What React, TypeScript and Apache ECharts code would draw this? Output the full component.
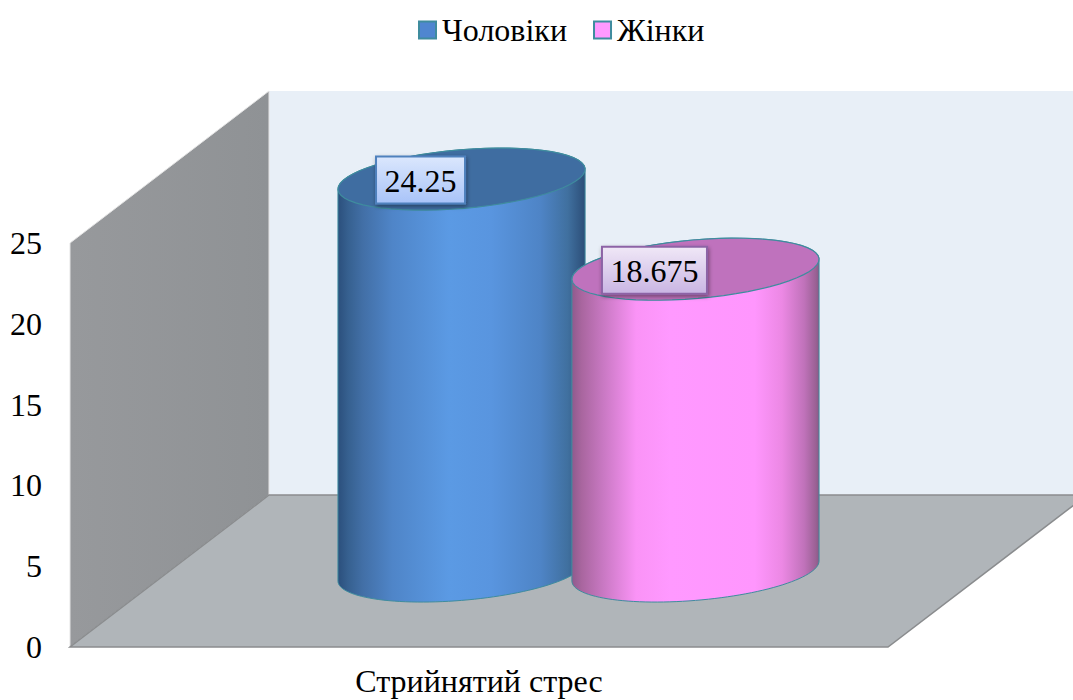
import React, { useEffect, useRef } from "react";
import * as echarts from "echarts";

const categories = ["Стрийнятий стрес"];
const maleValues = [24.25];
const femaleValues = [18.675];
const maleName = "Чоловіки";
const femaleName = "Жінки";
const yTicks = { min: 0, max: 25, interval: 5 };

const SERIF = "'Liberation Serif', 'Times New Roman', serif";
const DEPTH_X = 199;
const DEPTH_Y = 152;
const BAR_SHIFT = 0.143; // share of the band
const RX = 124;
const RY = 29.3;
const TILT = (-4.9 * Math.PI) / 180;
const LABEL_SHIFT = -41;

const EDGE = "#3f8c9e";

type Look = {
  side: [number, string][];
  top: string;
  labelTop: string;
  labelBottom: string;
  labelBorder: string;
};

const maleLook: Look = {
  side: [
    [0, "#2b4f7c"],
    [0.04, "#36608f"],
    [0.1, "#426fa6"],
    [0.22, "#4f85c8"],
    [0.45, "#5b9ae4"],
    [0.62, "#5995df"],
    [0.82, "#4e84c6"],
    [0.93, "#40709f"],
    [1, "#2c4e78"],
  ],
  top: "#3f6da1",
  labelTop: "#dbe7fd",
  labelBottom: "#a8c3f8",
  labelBorder: "#4f81bd",
};

const femaleLook: Look = {
  side: [
    [0, "#8f5a8d"],
    [0.04, "#a9669f"],
    [0.125, "#c878c2"],
    [0.26, "#fa93f6"],
    [0.4, "#ff99ff"],
    [0.74, "#ff96fd"],
    [0.85, "#ec88e4"],
    [0.94, "#c072ba"],
    [0.985, "#9c6296"],
    [1, "#8a5a86"],
  ],
  top: "#bf72bd",
  labelTop: "#f0e8f7",
  labelBottom: "#c9b5e3",
  labelBorder: "#8d64a6",
};

function ellipsePoint(cx: number, cy: number, t: number): [number, number] {
  const c = Math.cos(t);
  const s = Math.sin(t);
  return [
    cx + RX * c * Math.cos(TILT) - RY * s * Math.sin(TILT),
    cy + RX * c * Math.sin(TILT) + RY * s * Math.cos(TILT),
  ];
}

function arcPoints(cx: number, cy: number, from: number, to: number) {
  const pts: [number, number][] = [];
  const n = 60;
  for (let i = 0; i <= n; i++) {
    pts.push(ellipsePoint(cx, cy, from + ((to - from) * i) / n));
  }
  return pts;
}

function textWidth(text: string, font: string) {
  const ctx = document.createElement("canvas").getContext("2d")!;
  ctx.font = font;
  return ctx.measureText(text).width;
}

function cylinderRenderer(look: Look, direction: number) {
  return (_params: any, api: any) => {
    const value = api.value(1);
    const base = api.coord([api.value(0), 0]);
    const head = api.coord([api.value(0), value]);
    const band = api.size([1, 0])[0];
    const cx = base[0] + direction * BAR_SHIFT * band + DEPTH_X / 2;
    const yBase = base[1] - DEPTH_Y / 2;
    const yTop = head[1] - DEPTH_Y / 2;
    const t0 = Math.atan2(-RY * Math.sin(TILT), RX * Math.cos(TILT));

    const lower = arcPoints(cx, yBase, t0, t0 + Math.PI);
    const upper = arcPoints(cx, yTop, t0 + Math.PI, t0 + 2 * Math.PI);

    const text = String(value);
    const font = `32px ${SERIF}`;
    const w = textWidth(text, font) + 17;
    const h = 47;
    const lx = cx + LABEL_SHIFT;

    return {
      type: "group",
      children: [
        {
          type: "polygon",
          shape: { points: [...lower, ...upper] },
          style: {
            fill: new echarts.graphic.LinearGradient(
              0,
              0,
              1,
              0,
              look.side.map(([offset, color]) => ({ offset, color }))
            ),
            stroke: EDGE,
            lineWidth: 1,
          },
        },
        {
          type: "polygon",
          shape: { points: arcPoints(cx, yTop, 0, 2 * Math.PI) },
          style: { fill: look.top, stroke: EDGE, lineWidth: 1.2 },
        },
        {
          type: "rect",
          shape: { x: lx - w / 2, y: yTop - h / 2 + 1, width: w, height: h },
          style: {
            fill: new echarts.graphic.LinearGradient(0, 0, 0, 1, [
              { offset: 0, color: look.labelTop },
              { offset: 1, color: look.labelBottom },
            ]),
            stroke: look.labelBorder,
            lineWidth: 2,
            shadowBlur: 4,
            shadowOffsetX: 1,
            shadowOffsetY: 2,
            shadowColor: "rgba(0,0,0,0.4)",
          },
        },
        {
          type: "text",
          style: {
            text,
            x: lx,
            y: yTop + 2,
            align: "center",
            verticalAlign: "middle",
            font,
            fill: "#000",
          },
        },
      ],
    };
  };
}

function wallsRenderer(params: any) {
  const { x, y, width, height } = params.coordSys;
  const left = x;
  const right = x + width;
  const top = y;
  const bottom = y + height;
  const dx = DEPTH_X;
  const dy = DEPTH_Y;
  return {
    type: "group",
    children: [
      {
        type: "polygon",
        shape: {
          points: [
            [left + dx, top - dy],
            [right + dx, top - dy],
            [right + dx, bottom - dy],
            [left + dx, bottom - dy],
          ],
        },
        style: { fill: "#e8eff7" },
      },
      {
        type: "polygon",
        shape: {
          points: [
            [left, top],
            [left + dx, top - dy],
            [left + dx, bottom - dy],
            [left, bottom],
          ],
        },
        style: {
          fill: new echarts.graphic.LinearGradient(0, 0, 1, 0, [
            { offset: 0, color: "#97999c" },
            { offset: 1, color: "#8f9295" },
          ]),
          stroke: "#e4e4e4",
          lineWidth: 1,
        },
      },
      {
        type: "polygon",
        shape: {
          points: [
            [left, bottom],
            [right, bottom],
            [right + dx, bottom - dy],
            [left + dx, bottom - dy],
          ],
        },
        style: { fill: "#b0b5b9", stroke: "#8a8c8e", lineWidth: 1.5 },
      },
    ],
  };
}

export default function App() {
  const ref = useRef<HTMLDivElement>(null);

  useEffect(() => {
    document.body.style.margin = "0";
    const chart = echarts.init(ref.current!, undefined, { renderer: "svg" });
    chart.setOption({
      animation: false,
      backgroundColor: "#ffffff",
      grid: { left: 70, right: 185, top: 243, bottom: 53, outerBoundsMode: "none" },
      legend: {
        left: 413,
        top: 9,
        itemWidth: 17,
        itemHeight: 17,
        itemGap: 26,
        icon: "rect",
        data: [maleName, femaleName],
        textStyle: { fontFamily: SERIF, fontSize: 32, color: "#000", padding: [0, 0, 0, 1] },
      },
      xAxis: {
        type: "category",
        data: categories,
        axisLine: { show: false },
        axisTick: { show: false },
        axisLabel: {
          fontFamily: SERIF,
          fontSize: 32,
          lineHeight: 26,
          color: "#000",
          margin: 21,
        },
      },
      yAxis: {
        type: "value",
        min: yTicks.min,
        max: yTicks.max,
        interval: yTicks.interval,
        axisLine: { show: false },
        axisTick: { show: false },
        splitLine: { show: false },
        axisLabel: {
          fontFamily: SERIF,
          fontSize: 32,
          color: "#000",
          margin: 28,
          padding: [2, 0, 0, 0],
        },
      },
      series: [
        {
          name: "walls",
          type: "custom",
          silent: true,
          clip: false,
          data: [[0, 0]],
          encode: { x: 0, y: 1 },
          renderItem: wallsRenderer,
        },
        {
          name: maleName,
          type: "custom",
          clip: false,
          data: maleValues.map((v, i) => [i, v]),
          encode: { x: 0, y: 1 },
          itemStyle: { color: "#4f86d0", borderColor: EDGE, borderWidth: 2 },
          renderItem: cylinderRenderer(maleLook, -1),
        },
        {
          name: femaleName,
          type: "custom",
          clip: false,
          data: femaleValues.map((v, i) => [i, v]),
          encode: { x: 0, y: 1 },
          itemStyle: { color: "#ff99ff", borderColor: EDGE, borderWidth: 2 },
          renderItem: cylinderRenderer(femaleLook, 1),
        },
      ],
    });
    return () => chart.dispose();
  }, []);

  return <div ref={ref} style={{ position: "fixed", left: 0, top: 0, width: 1073, height: 700 }} />;
}
